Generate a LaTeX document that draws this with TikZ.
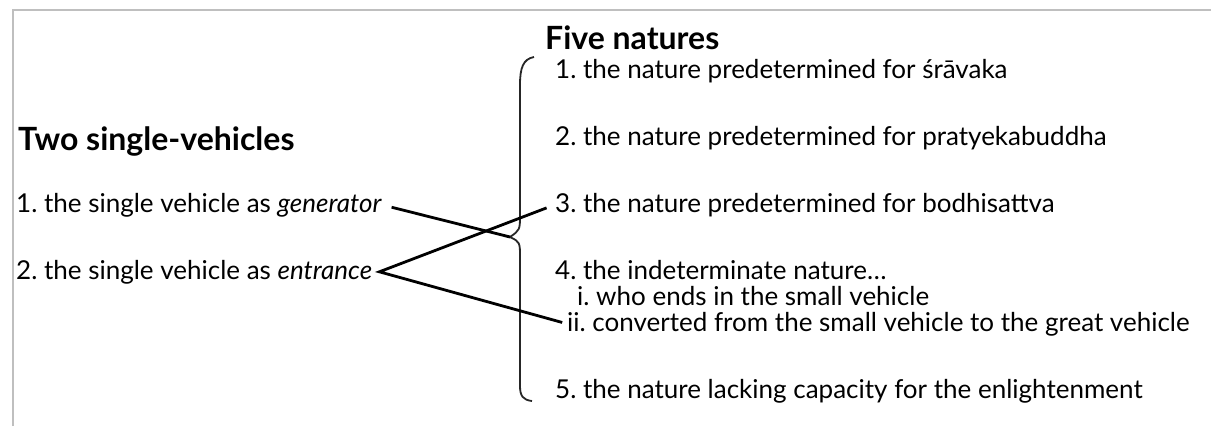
\documentclass[tikz,border=0pt]{standalone}
\usepackage{fontspec}
\setmainfont{Lato}
\frenchspacing
\begin{document}
\begin{tikzpicture}
    [
    x=1pt,y=-1pt,
    title/.style={anchor=base west,inner sep=0pt,font=\fontsize{32}{36}\selectfont\bfseries},
    entry/.style={anchor=base west,inner sep=0pt,font=\fontsize{26}{28}\selectfont},
    link/.style={line width=2.8pt,line join=miter},
    brace/.style={line width=1.8pt,black!85},
    frame/.style={line width=1.5pt,black!25}
    ]
    \useasboundingbox (0,0) rectangle (1215,426);
    \draw [frame] (13,426) -- (13,10) -- (1211,10);
    % left column
    \node (two) at (18,150) [title] {Two single-vehicles};
    \node (gen) at (16,212) [entry] {1. the single vehicle as \emph{generator}};
    \node (ent) at (16,279) [entry] {2. the single vehicle as \emph{entrance}};
    % right column
    \node (five) at (545,49) [title] {Five natures};
    \node (n1) at (555,78) [entry] {1. the nature predetermined for śrāvaka};
    \node (n2) at (555,145) [entry] {2. the nature predetermined for pratyekabuddha};
    \node (n3) at (555,212) [entry] {3. the nature predetermined for bodhisattva};
    \node (n4) at (555,279) [entry] {4. the indeterminate nature…};
    \node (n4a) at (577,305) [entry] {i. who ends in the small vehicle};
    \node (n4b) at (567,331) [entry] {ii. converted from the small vehicle to the great vehicle};
    \node (n5) at (555,398) [entry] {5. the nature lacking capacity for the enlightenment};
    % brace
    \coordinate (cusp) at (510,237);
    \draw [brace] (534,57) .. controls (523,59) and (520,68) .. (520,85) -- (520,214)
        .. controls (520,230) .. (cusp) .. controls (520,242) .. (520,258) -- (520,386)
        .. controls (520,396) and (523,400) .. (532,401);
    % links
    \coordinate (vtx) at ([xshift=7pt]ent.east);
    \draw [link,shorten <=10pt] (gen.east) -- (cusp);
    \draw [link,shorten <=9pt,shorten >=5pt] (n3.west) -- (vtx) -- (n4b.west);
\end{tikzpicture}
\end{document}
